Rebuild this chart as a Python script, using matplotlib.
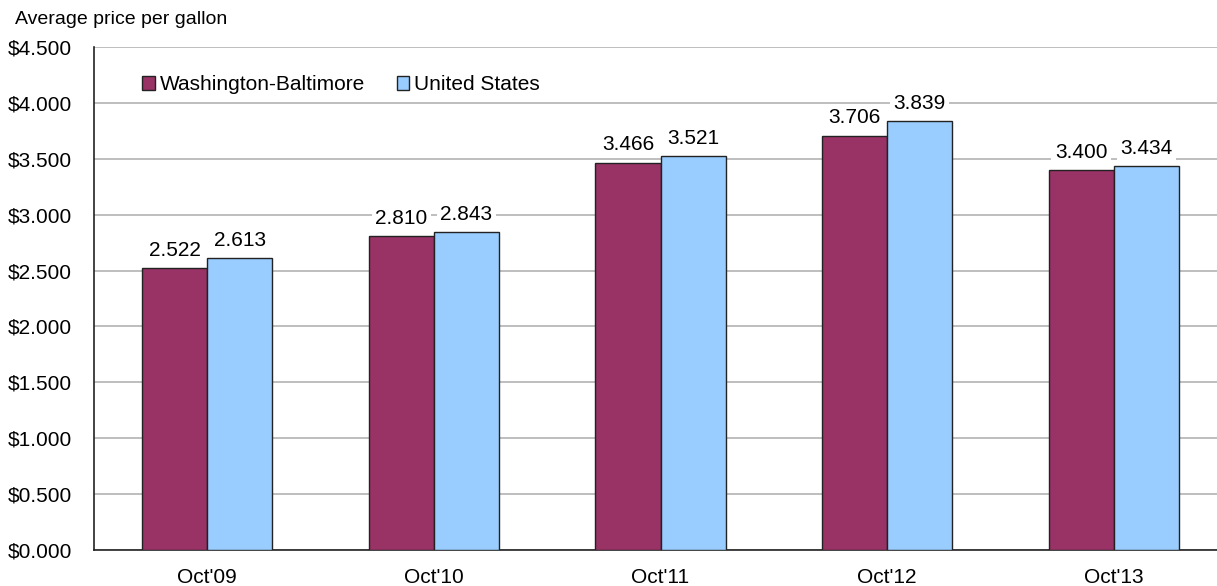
import matplotlib
matplotlib.use("Agg")
import matplotlib.pyplot as plt
import numpy as np

plt.rcParams['font.family'] = ['Liberation Sans', 'DejaVu Sans']

categories = ["Oct'09", "Oct'10", "Oct'11", "Oct'12", "Oct'13"]
wash_balt = [2.522, 2.810, 3.466, 3.706, 3.400]
us = [2.613, 2.843, 3.521, 3.839, 3.434]
series_names = ["Washington-Baltimore", "United States"]
colors = ["#993366", "#99CCFF"]
yticks = [0.0, 0.5, 1.0, 1.5, 2.0, 2.5, 3.0, 3.5, 4.0, 4.5]

W, H = 1217, 586
fig = plt.figure(figsize=(W / 100, H / 100), dpi=100)
left, right, top, bottom = 94, 1227, 47, 550
ax = fig.add_axes([left / W, (H - bottom) / H, (right - left) / W, (bottom - top) / H])

x = np.arange(len(categories))
bw = 0.287
b1 = ax.bar(x - bw / 2, wash_balt, bw, color=colors[0], edgecolor="#222222", linewidth=1.0,
            label=series_names[0], zorder=3)
b2 = ax.bar(x + bw / 2, us, bw, color=colors[1], edgecolor="#222222", linewidth=1.0,
            label=series_names[1], zorder=3)

for bars, vals in ((b1, wash_balt), (b2, us)):
    for rect, v in zip(bars, vals):
        ax.annotate(f"{v:.3f}", (rect.get_x() + rect.get_width() / 2, v),
                    xytext=(0, 6), textcoords="offset points", ha="center", va="bottom",
                    fontsize=15, zorder=4,
                    bbox=dict(facecolor="white", edgecolor="none", pad=2.5))

ax.set_xlim(-0.5, len(categories) - 0.5)
ax.set_ylim(0, 4.5)
ax.set_yticks(yticks)
ax.set_yticklabels([f"${t:.3f}" for t in yticks])
ax.set_xticks(x)
ax.set_xticklabels(categories)
ax.tick_params(axis="both", length=0, labelsize=15)
ax.tick_params(axis="y", pad=16)
ax.tick_params(axis="x", pad=13)
ax.yaxis.grid(True, color="#b3b3b3", linewidth=1.2, zorder=0)
ax.set_axisbelow(True)
for s in ["top", "right"]:
    ax.spines[s].set_visible(False)
ax.spines["left"].set_color("#222222")
ax.spines["bottom"].set_color("#222222")
ax.spines["left"].set_linewidth(1.2)
ax.spines["bottom"].set_linewidth(1.2)

leg = ax.legend(loc="upper left", bbox_to_anchor=(40 / (right - left), 0.96), ncol=2, frameon=False,
                fontsize=15, handlelength=0.6, handleheight=0.6, handletextpad=0.25,
                columnspacing=1.5, borderaxespad=0)

fig.text(15 / W, 1 - 19 / H, "Average price per gallon", fontsize=14, ha="left", va="center")

fig.savefig("out.png", dpi=100)
